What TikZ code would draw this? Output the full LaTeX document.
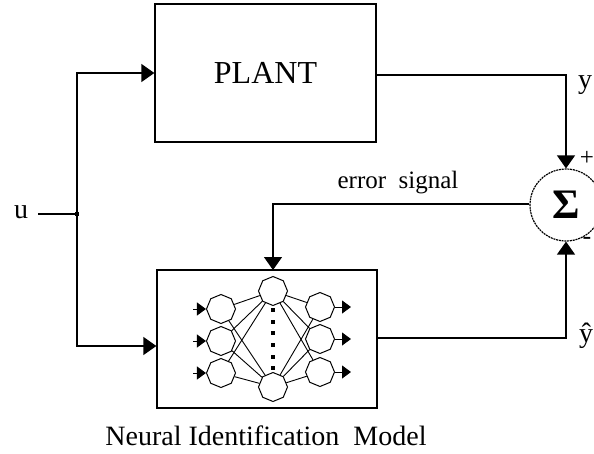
\documentclass[tikz,border=0pt]{standalone}
\usepackage{fontspec}
\setmainfont{Liberation Serif}
\usetikzlibrary{arrows.meta,shapes.geometric,calc}
\begin{document}
\begin{tikzpicture}[x=1pt,y=-1pt,
  mainline/.style={line width=1.3pt},
  arr/.style={mainline,-{Triangle[length=13pt,width=18pt]}},
  sarr/.style={line width=1pt,-{Triangle[length=9pt,width=13pt]}},
  blockbox/.style={draw,line width=1.3pt,inner sep=0pt},
  neuron/.style={draw,line width=1pt,regular polygon,regular polygon sides=8,shape border rotate=22.5,minimum size=29pt,inner sep=0pt},
  link/.style={line width=0.9pt},
  dotmark/.style={fill,minimum size=3.5pt,inner sep=0pt},
  lbl/.style={font=\fontsize{28}{28}\selectfont,inner sep=0pt}]
\useasboundingbox (0,0) rectangle (594,453);
% blocks
\node[blockbox,minimum width=221pt,minimum height=138pt,font=\fontsize{32}{32}\selectfont] (plant) at (265.5,73) {PLANT};
\node[blockbox,minimum width=220pt,minimum height=138pt] (nn) at (267,339) {};
\node[draw,dash pattern=on 2pt off 0.8pt,line width=1.2pt,circle,minimum size=72pt,inner sep=0pt,font=\fontsize{42}{42}\selectfont\bfseries] (sum) at (566,205) {Σ};
% input
\node[lbl] (u) at (21,212) {u};
\coordinate (j) at (77,214);
\node[dotmark] (jd) at (j) {};
\coordinate (ustart) at (38,214);
\draw[mainline] (ustart) -- (j);
\draw[arr] (j) |- (plant.west);
\draw[arr] (j) |- ([yshift=-7pt]nn.west);
% outputs to sum
\draw[arr] ([yshift=-2pt]plant.east) -| (sum.north);
\draw[arr] ([yshift=1pt]nn.east) -| (sum.south);
% error signal
\coordinate (nt) at (273,270);
\draw[arr] ([yshift=1pt]sum.west) -| (nt);
\node[lbl,font=\fontsize{25}{25}\selectfont] (err) at (398,183) {error\ \ signal};
% labels
\node[lbl] (ylab) at (585,85) {y};
\node[lbl] (yhat) at (586,336) {\^{y}};
\node[lbl,font=\fontsize{25}{25}\selectfont] (plus) at (587,158) {+};
\node[lbl,font=\fontsize{26}{26}\selectfont] (minus) at (587,241) {-};
\node[lbl] (cap) at (266,436) {Neural Identification\ \ Model};
% neural network
\foreach \i/\y in {1/309,2/341,3/373} {
  \node[neuron] (in\i) at (221,\y) {};
  \coordinate (ia\i) at (193,\y);
  \draw[sarr] (ia\i) -- (in\i);
}
\foreach \i/\y in {1/307,2/339,3/372} {
  \node[neuron] (out\i) at (320,\y) {};
  \coordinate (oa\i) at (351,\y);
  \draw[sarr] (out\i) -- (oa\i);
}
\node[neuron] (h1) at (273,291) {};
\node[neuron] (h2) at (273,387) {};
\foreach \i in {1,2,3} {
  \foreach \h in {1,2} {
    \draw[link] (in\i) -- (h\h);
    \draw[link] (h\h) -- (out\i);
  }
}
\foreach \k/\y in {1/310,2/322,3/333,4/345,5/357,6/368} {
  \node[dotmark] (d\k) at (273,\y) {};
}
\end{tikzpicture}
\end{document}
